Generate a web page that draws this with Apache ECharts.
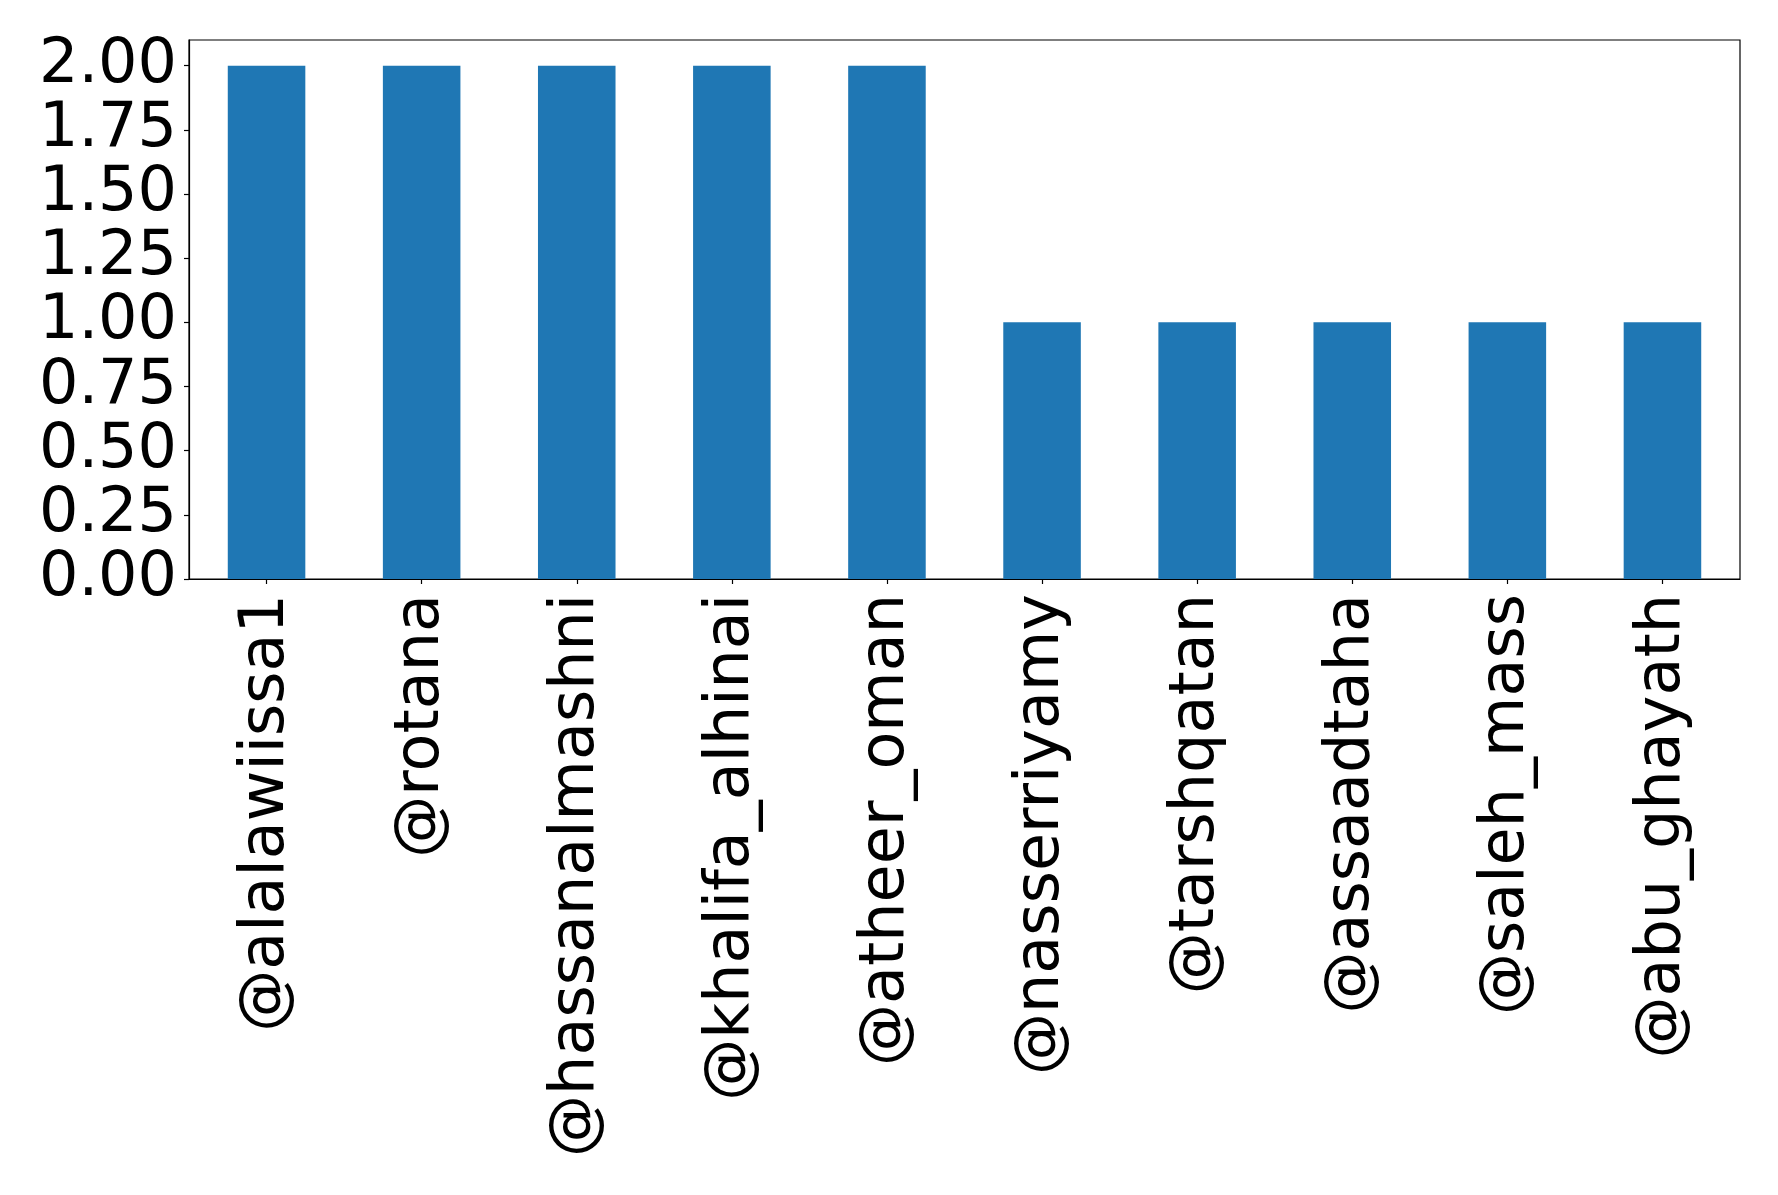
<!DOCTYPE html>
<html>
<head>
<meta charset="utf-8">
<script src="https://cdn.jsdelivr.net/npm/echarts@6/dist/echarts.min.js"></script>
<style>
html,body{margin:0;padding:0;background:#fff;}
#chart{width:1778px;height:1195px;}
</style>
</head>
<body>
<div id="chart"></div>
<script>
const categories = ['@alalawiissa1','@rotana','@hassanalmashni','@khalifa_alhinai','@atheer_oman','@nasserriyamy','@tarshqatan','@assaadtaha','@saleh_mass','@abu_ghayath'];
const values = [2, 2, 2, 2, 2, 1, 1, 1, 1, 1];
const yTicks = [0, 0.25, 0.5, 0.75, 1, 1.25, 1.5, 1.75, 2];

const chart = echarts.init(document.getElementById('chart'), null, {renderer: 'canvas'});
const font = 'DejaVu Sans';
chart.setOption({
  animation: false,
  backgroundColor: '#fff',
  grid: {left: 189, top: 40, right: 38, bottom: 616, show: true, borderColor: '#000', borderWidth: 1.2, backgroundColor: 'transparent'},
  xAxis: {
    type: 'category',
    data: categories,
    boundaryGap: true,
    axisLine: {show: true, lineStyle: {color: '#000', width: 1.2}},
    axisTick: {show: true, alignWithLabel: true, length: 5, lineStyle: {color: '#000', width: 1.2}},
    axisLabel: {rotate: 90, interval: 0, margin: 15, fontFamily: font, fontSize: 62, color: '#000'},
    splitLine: {show: false}
  },
  yAxis: {
    type: 'value',
    min: 0,
    max: 2.1,
    axisLine: {show: true, lineStyle: {color: '#000', width: 1.2}},
    axisTick: {show: true, length: 5, lineStyle: {color: '#000', width: 1.2}, customValues: yTicks},
    axisLabel: {fontFamily: font, fontSize: 62, color: '#000', margin: 12, customValues: yTicks,
      formatter: v => v.toFixed(2)},
    splitLine: {show: false}
  },
  series: [{
    type: 'bar',
    data: values,
    barWidth: '50%',
    itemStyle: {color: '#1f77b4'}
  }]
});
</script>
</body>
</html>
